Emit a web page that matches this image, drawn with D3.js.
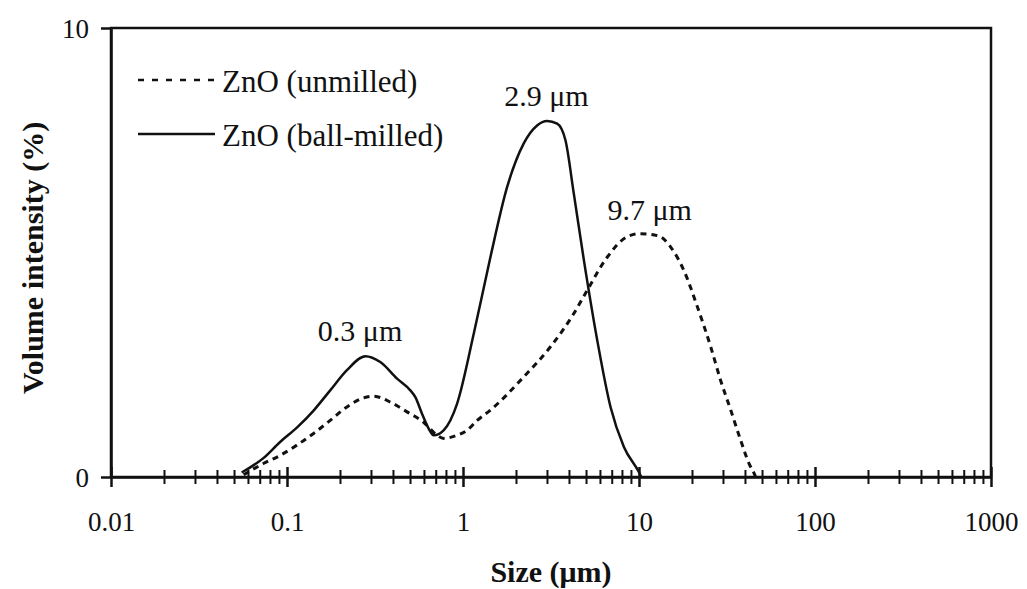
<!DOCTYPE html>
<html>
<head>
<meta charset="utf-8">
<script src="https://cdn.jsdelivr.net/npm/d3@7"></script>
<style>
    body { margin: 0; background: #fff; }
</style>
</head>
<body>
<svg id="chart"></svg>
<script>
// ball-milled ZnO (solid line)
const milledSize = [0.0553, 0.0734, 0.0914, 0.1138, 0.1416, 0.176, 0.219, 0.279, 0.339, 0.422, 0.502,
    0.536, 0.585, 0.638, 0.681, 0.776, 0.925, 1.151, 1.432, 1.782, 2.214, 2.637, 3.006, 3.427,
    3.821, 4.262, 4.862, 5.794, 6.89, 8.21, 9.98, 10.3];
const milledVol = [0.10, 0.42, 0.78, 1.10, 1.48, 1.93, 2.38, 2.69, 2.56, 2.19, 1.93,
    1.78, 1.41, 1.08, 0.93, 1.04, 1.63, 3.19, 4.90, 6.46, 7.43, 7.83, 7.93, 7.87,
    7.50, 6.31, 4.83, 3.04, 1.56, 0.67, 0.11, 0];

// unmilled ZnO (dashed line)
const unmilledSize = [0.0567, 0.0734, 0.0914, 0.1138, 0.1416, 0.176, 0.219, 0.272, 0.310, 0.386,
    0.481, 0.597, 0.713, 0.776, 0.925, 1.055, 1.203, 1.432, 2.214, 3.14, 4.262, 5.08, 6.61,
    8.57, 10.2, 12.9, 15.14, 17.99, 21.46, 25.55, 29.1, 33.2, 37.8, 42.2, 45.1, 46];
const unmilledVol = [0.05, 0.30, 0.48, 0.71, 0.97, 1.26, 1.56, 1.76, 1.80, 1.67,
    1.45, 1.22, 0.93, 0.86, 0.93, 1.04, 1.26, 1.49, 2.23, 2.90, 3.64, 4.16, 4.90,
    5.35, 5.42, 5.37, 5.12, 4.60, 3.79, 2.90, 2.15, 1.49, 0.82, 0.30, 0.08, 0];

const xTickLabels = [0.01, 0.1, 1, 10, 100, 1000];
const yTickLabels = [0, 10];

const peakLabels = [
    { text: '0.3 \u03bcm', x: 0.26, y: 3.03 },
    { text: '2.9 \u03bcm', x: 2.98, y: 8.26 },
    { text: '9.7 \u03bcm', x: 11.5, y: 5.72 }
];

const width = 1027, height = 589;
const margin = { top: 28, right: 36, bottom: 112, left: 111 };
const inner_width = width - margin.left - margin.right;
const inner_height = height - margin.top - margin.bottom;
const font = '"Liberation Serif", "Times New Roman", serif';
const stroke = '#111';

const svg = d3.select('#chart')
    .attr('width', width)
    .attr('height', height)
    .attr('font-family', font);

const chart = svg.append('g')
    .attr('transform', `translate(${margin.left}, ${margin.top})`);

const xscale = d3.scaleLog()
    .domain([0.01, 1000])
    .range([0, inner_width]);

const yscale = d3.scaleLinear()
    .domain([0, 10])
    .range([inner_height, 0]);

// minor ticks 2..9 in every decade
const minorTicks = [];
xTickLabels.slice(0, -1).forEach(d => {
    for (let k = 2; k <= 9; k++) minorTicks.push(d * k);
});

// frame
chart.append('rect')
    .attr('x', 0).attr('y', 0)
    .attr('width', inner_width).attr('height', inner_height)
    .attr('fill', 'none')
    .attr('stroke', stroke)
    .attr('stroke-width', 2.5);

// x axis, ticks crossing the line
const xaxis_group = chart.append('g')
    .attr('transform', `translate(0, ${inner_height})`);

xaxis_group.append('g')
    .call(d3.axisBottom(xscale).tickValues(minorTicks).tickFormat('').tickSizeOuter(0))
    .call(g => g.select('.domain').remove())
    .call(g => g.selectAll('.tick line')
        .attr('y1', -7).attr('y2', 7)
        .attr('stroke', stroke).attr('stroke-width', 2));

xaxis_group.append('g')
    .call(d3.axisBottom(xscale).tickValues(xTickLabels).tickFormat(d => d).tickSizeOuter(0))
    .attr('font-family', font)
    .call(g => g.select('.domain')
        .attr('stroke', stroke).attr('stroke-width', 2.5))
    .call(g => g.selectAll('.tick line')
        .attr('y1', -10).attr('y2', 10)
        .attr('stroke', stroke).attr('stroke-width', 2.5))
    .call(g => g.selectAll('.tick text')
        .attr('y', 54).attr('dy', 0)
        .attr('font-size', 27)
        .attr('fill', '#111'));

// y axis
chart.append('g')
    .call(d3.axisLeft(yscale).tickValues(yTickLabels).tickSize(10).tickPadding(12).tickSizeOuter(0))
    .attr('font-family', font)
    .call(g => g.select('.domain').attr('stroke', stroke).attr('stroke-width', 2.5))
    .call(g => g.selectAll('.tick line').attr('stroke', stroke).attr('stroke-width', 2.5))
    .call(g => g.selectAll('.tick text')
        .attr('dy', '0.34em')
        .attr('font-size', 27)
        .attr('fill', '#111'));

// curves
const line = d3.line()
    .x(d => xscale(d[0]))
    .y(d => yscale(d[1]))
    .curve(d3.curveMonotoneX);

chart.append('path')
    .datum(unmilledSize.map((s, i) => [s, unmilledVol[i]]))
    .attr('d', line)
    .attr('fill', 'none')
    .attr('stroke', stroke)
    .attr('stroke-width', 3)
    .attr('stroke-dasharray', '6,5');

chart.append('path')
    .datum(milledSize.map((s, i) => [s, milledVol[i]]))
    .attr('d', line)
    .attr('fill', 'none')
    .attr('stroke', stroke)
    .attr('stroke-width', 2.5);

// peak labels
chart.selectAll('.peak')
    .data(peakLabels)
    .join('text')
    .attr('class', 'peak')
    .attr('x', d => xscale(d.x))
    .attr('y', d => yscale(d.y))
    .attr('text-anchor', 'middle')
    .attr('font-size', 30)
    .attr('fill', '#111')
    .text(d => d.text);

// legend
const legend = svg.append('g');
const legendItems = [
    { label: 'ZnO (unmilled)', dash: '6,8', y: 80 },
    { label: 'ZnO (ball-milled)', dash: null, y: 134 }
];
legendItems.forEach(d => {
    legend.append('line')
        .attr('x1', 138).attr('x2', 215)
        .attr('y1', d.y).attr('y2', d.y)
        .attr('stroke', stroke)
        .attr('stroke-width', 2.5)
        .attr('stroke-dasharray', d.dash);
    legend.append('text')
        .attr('x', 222)
        .attr('y', d.y + 12)
        .attr('font-size', 31)
        .attr('fill', '#111')
        .text(d.label);
});

// axis titles
svg.append('text')
    .attr('x', margin.left + inner_width / 2)
    .attr('y', 582)
    .attr('text-anchor', 'middle')
    .attr('font-size', 30)
    .attr('font-weight', 'bold')
    .attr('fill', '#111')
    .text('Size (\u03bcm)');

svg.append('text')
    .attr('transform', 'rotate(-90)')
    .attr('x', -258)
    .attr('y', 43)
    .attr('text-anchor', 'middle')
    .attr('font-size', 30)
    .attr('font-weight', 'bold')
    .attr('fill', '#111')
    .text('Volume intensity (%)');
</script>
</body>
</html>
